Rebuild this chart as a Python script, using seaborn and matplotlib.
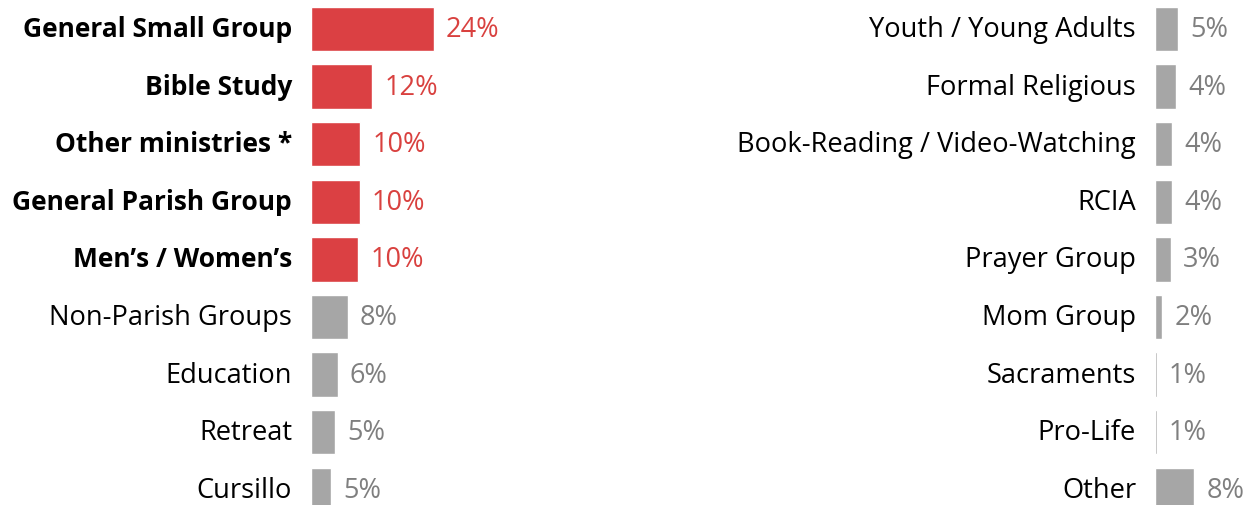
import pandas as pd
import numpy as np
import matplotlib.pyplot as plt
import matplotlib.transforms as mtrans
import seaborn as sns

# === Daten ===
links_kat = ["General Small Group", "Bible Study", "Other ministries *", "General Parish Group",
             "Men\u2019s / Women\u2019s", "Non-Parish Groups", "Education", "Retreat", "Cursillo"]
links_wert = [24.1, 12.0, 9.7, 9.6, 9.3, 7.2, 5.2, 4.8, 4.0]
links_label = ["24%", "12%", "10%", "10%", "10%", "8%", "6%", "5%", "5%"]
links_fett = [True, True, True, True, True, False, False, False, False]

rechts_kat = ["Youth / Young Adults", "Formal Religious", "Book-Reading / Video-Watching", "RCIA",
              "Prayer Group", "Mom Group", "Sacraments", "Pro-Life", "Other"]
rechts_wert = [4.6, 4.1, 3.4, 3.4, 3.1, 1.4, 0.4, 0.4, 7.7]
rechts_label = ["5%", "4%", "4%", "4%", "3%", "2%", "1%", "1%", "8%"]

ROT = "#DB4043"
GRAU = "#A6A6A6"
ROT_TXT = "#D9413F"
GRAU_TXT = "#7F7F7F"

sns.set_style("white")
plt.rcParams["font.family"] = ["Open Sans", "DejaVu Sans"]

W, H = 1247, 505
fig = plt.figure(figsize=(W / 100, H / 100), dpi=100)

PX = 5.1  # Pixel pro Prozentpunkt
ylim = (8.264, -0.503)


def panel(x0, breite, kat, wert, label, fett, farben, txtfarben):
    ax = fig.add_axes([x0 / W, 0, breite / W, 1])
    df = pd.DataFrame({"kat": kat, "wert": wert})
    sns.barplot(data=df, y="kat", x="wert", hue="kat", palette=farben, orient="h",
                width=0.77, legend=False, ax=ax, saturation=1)
    ax.set_xlim(0, breite / PX)
    ax.set_ylim(*ylim)
    ax.set_xlabel("")
    ax.set_ylabel("")
    ax.set_xticks([])
    ax.set_yticks([])
    # Kategorien links neben den Balken, Grundlinie etwas unter der Balkenmitte
    trans = ax.get_yaxis_transform() + mtrans.ScaledTranslation(-19 / 100, -8 / 100, fig.dpi_scale_trans)
    for i, (k, f) in enumerate(zip(kat, fett)):
        ax.text(0, i, k, transform=trans, ha="right", va="baseline",
                fontsize=19 if f else 19.6,
                color="black", fontweight="bold" if f else "normal")
    off = mtrans.ScaledTranslation(0, -8 / 100, fig.dpi_scale_trans)
    for i, (v, l) in enumerate(zip(wert, label)):
        ax.text(v + 12 / PX, i, l, va="baseline", ha="left", fontsize=19.5,
                color=txtfarben[i], transform=ax.transData + off)
    sns.despine(ax=ax, left=True, bottom=True)
    ax.patch.set_alpha(0)
    return ax


links_farben = [ROT if f else GRAU for f in links_fett]
links_txt = [ROT_TXT if f else GRAU_TXT for f in links_fett]
panel(311, 320, links_kat, links_wert, links_label, links_fett, links_farben, links_txt)

panel(1155, W - 1155, rechts_kat, rechts_wert, rechts_label, [False] * 9,
      [GRAU] * 9, [GRAU_TXT] * 9)

fig.savefig("out.png", dpi=100)
